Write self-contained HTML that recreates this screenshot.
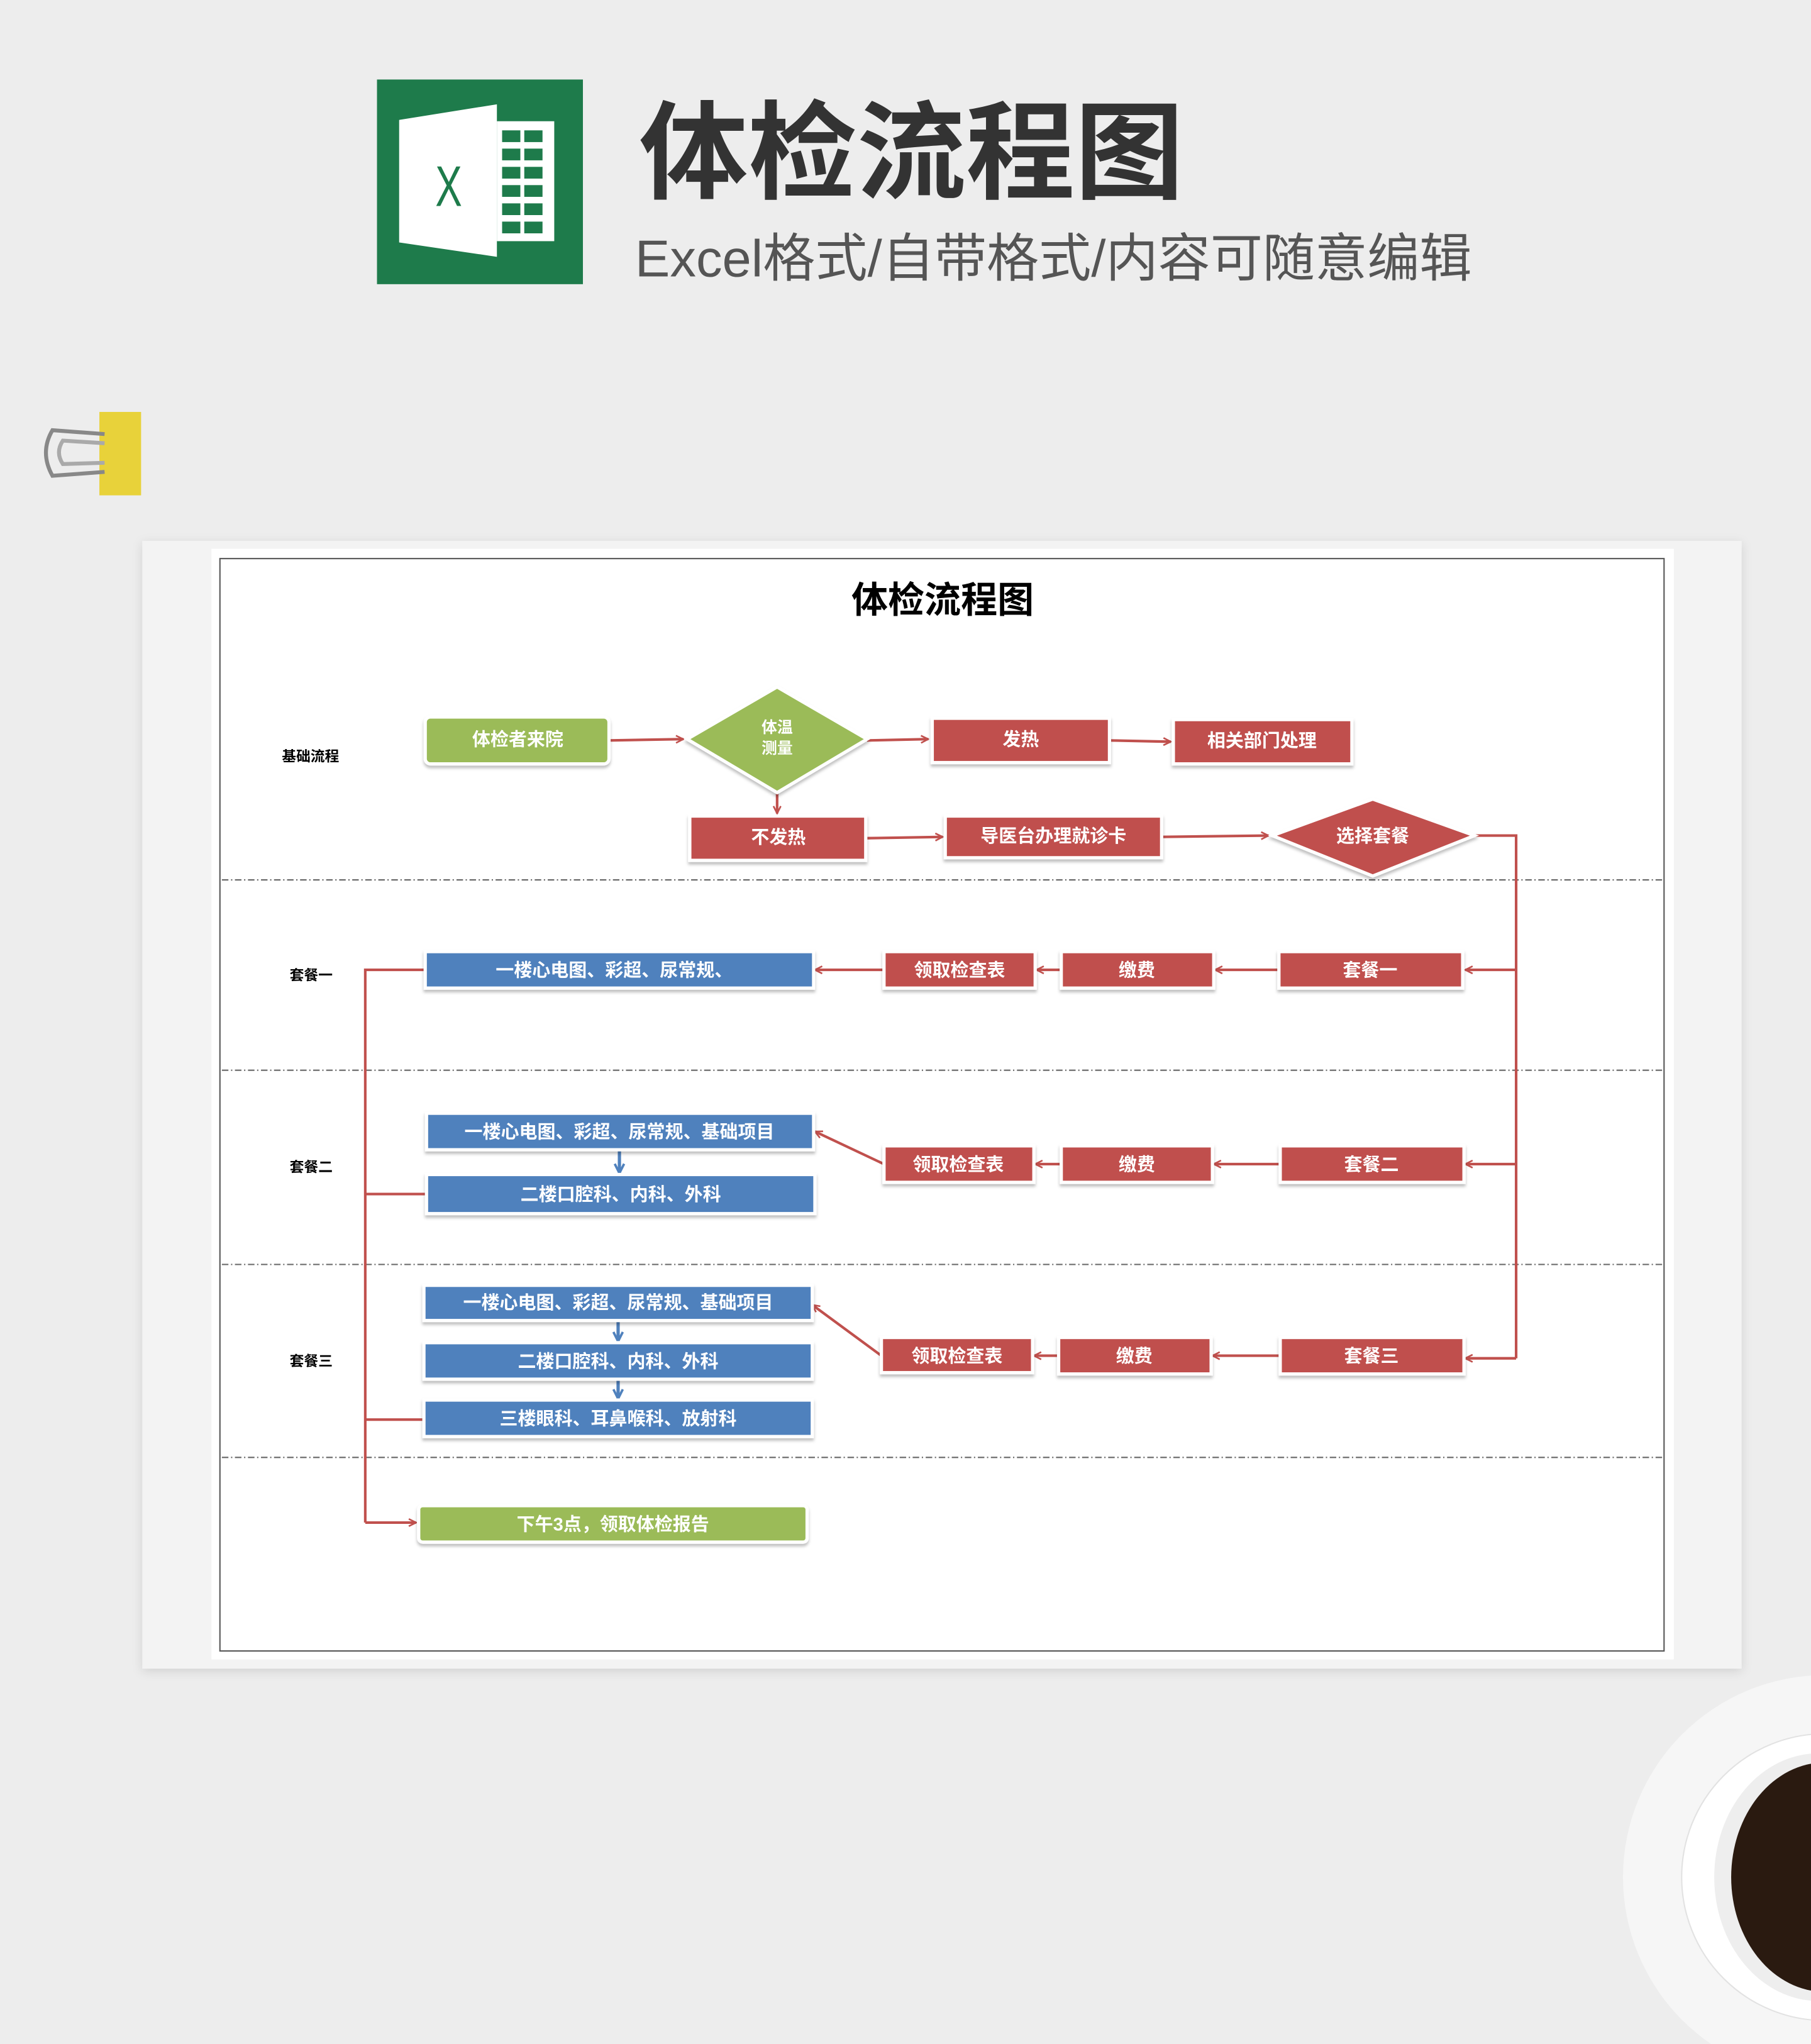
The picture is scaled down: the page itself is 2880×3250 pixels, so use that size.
<!DOCTYPE html>
<html><head><meta charset="utf-8">
<style>
html,body{margin:0;padding:0;background:#ededed;}
svg{display:block;}
text{font-family:"Liberation Sans","Noto Sans CJK SC",sans-serif;}
</style></head>
<body>
<svg width="2880" height="3250" viewBox="0 0 1389 1568" xmlns="http://www.w3.org/2000/svg">
<defs>
<marker id="ar" viewBox="0 0 10 10" refX="9" refY="5" markerWidth="7" markerHeight="7" orient="auto-start-reverse" markerUnits="userSpaceOnUse">
<path d="M1,1 L9,5 L1,9" fill="none" stroke="#c0504d" stroke-width="1.8"/></marker>
<marker id="ab" viewBox="0 0 10 10" refX="9" refY="5" markerWidth="9" markerHeight="9" orient="auto" markerUnits="userSpaceOnUse">
<path d="M1,1 L9,5 L1,9" fill="none" stroke="#4f81bd" stroke-width="2"/></marker>
<filter id="sh" x="-10%" y="-10%" width="120%" height="130%"><feDropShadow dx="0" dy="2" stdDeviation="1.2" flood-color="#000" flood-opacity="0.25"/></filter>
<filter id="cs" x="-5%" y="-5%" width="110%" height="110%"><feDropShadow dx="0" dy="2" stdDeviation="4" flood-color="#000" flood-opacity="0.12"/></filter>
</defs>
<rect width="1389" height="1568" fill="#ededed"/>

<!-- excel logo -->
<rect x="289" y="61" width="158" height="157" fill="#1e7b4b"/>
<rect x="381" y="93" width="44" height="92" fill="#fff"/>
<g fill="#1e7b4b">
<rect x="385" y="100" width="14" height="9"/><rect x="402" y="100" width="14" height="9"/>
<rect x="385" y="114" width="14" height="9"/><rect x="402" y="114" width="14" height="9"/>
<rect x="385" y="128" width="14" height="9"/><rect x="402" y="128" width="14" height="9"/>
<rect x="385" y="142" width="14" height="9"/><rect x="402" y="142" width="14" height="9"/>
<rect x="385" y="156" width="14" height="9"/><rect x="402" y="156" width="14" height="9"/>
<rect x="385" y="170" width="14" height="9"/><rect x="402" y="170" width="14" height="9"/>
</g>
<polygon points="306,92 381,80 381,197 306,186" fill="#fff"/>
<text x="344" y="158" font-size="44" fill="#1e7b4b" text-anchor="middle" transform="translate(344 0) scale(0.7 1) translate(-344 0)">X</text>

<text x="490" y="146" font-size="82" font-weight="bold" fill="#333" textLength="418" lengthAdjust="spacingAndGlyphs">体检流程图</text>
<text x="487" y="212" font-size="40" fill="#555" textLength="642" lengthAdjust="spacingAndGlyphs">Excel格式/自带格式/内容可随意编辑</text>

<!-- binder clip -->
<rect x="76" y="316" width="32" height="64" fill="#e8d23a"/>
<path d="M80,333 L40,330 Q30,347 40,365 L80,362" fill="none" stroke="#888" stroke-width="3"/>
<path d="M80,340 L48,338 Q42,347 48,356 L80,355" fill="none" stroke="#aaa" stroke-width="3"/>

<!-- card -->
<rect x="109" y="415" width="1227" height="865" fill="#f3f3f3" filter="url(#cs)"/>
<rect x="162" y="421" width="1122" height="852" fill="#fff"/>
<rect x="168.5" y="428.5" width="1108" height="838" fill="none" stroke="#555" stroke-width="1"/>

<text x="723" y="470" font-size="28" font-weight="bold" fill="#000" text-anchor="middle">体检流程图</text>

<g stroke="#666" stroke-width="1" stroke-dasharray="5,2,1,2">
<line x1="170" y1="675" x2="1276" y2="675"/>
<line x1="170" y1="821" x2="1276" y2="821"/>
<line x1="170" y1="970" x2="1276" y2="970"/>
<line x1="170" y1="1118" x2="1276" y2="1118"/>
</g>

<g font-size="11" font-weight="bold" fill="#000">
<text x="216" y="584">基础流程</text>
<text x="222" y="752">套餐一</text>
<text x="222" y="899">套餐二</text>
<text x="222" y="1048">套餐三</text>
</g>

<!-- connectors -->
<g stroke="#c0504d" stroke-width="2" fill="none">
<line x1="467" y1="568" x2="524" y2="567" marker-end="url(#ar)"/>
<line x1="665" y1="568" x2="712" y2="567" marker-end="url(#ar)"/>
<line x1="851" y1="568" x2="898" y2="569" marker-end="url(#ar)"/>
<line x1="596" y1="607" x2="596" y2="624" marker-end="url(#ar)"/>
<line x1="664" y1="643" x2="723" y2="642" marker-end="url(#ar)"/>
<line x1="891" y1="642" x2="973" y2="641" marker-end="url(#ar)"/>
<polyline points="1131,641 1163,641 1163,1042"/>
<line x1="1163" y1="744" x2="1124" y2="744" marker-end="url(#ar)"/>
<line x1="1163" y1="893" x2="1124" y2="893" marker-end="url(#ar)"/>
<line x1="1163" y1="1042" x2="1124" y2="1042" marker-end="url(#ar)"/>
<line x1="981" y1="744" x2="932" y2="744" marker-end="url(#ar)"/>
<line x1="814" y1="744" x2="795" y2="744" marker-end="url(#ar)"/>
<line x1="678" y1="744" x2="625" y2="744" marker-end="url(#ar)"/>
<line x1="982" y1="893" x2="931" y2="893" marker-end="url(#ar)"/>
<line x1="814" y1="893" x2="794" y2="893" marker-end="url(#ar)"/>
<line x1="678" y1="893" x2="625" y2="868" marker-end="url(#ar)"/>
<line x1="982" y1="1040" x2="930" y2="1040" marker-end="url(#ar)"/>
<line x1="812" y1="1040" x2="793" y2="1040" marker-end="url(#ar)"/>
<line x1="676" y1="1040" x2="623" y2="1001" marker-end="url(#ar)"/>
<polyline points="327,744 280,744 280,1168"/>
<line x1="280" y1="916" x2="327" y2="916"/>
<line x1="280" y1="1089" x2="326" y2="1089"/>
<line x1="280" y1="1168" x2="319" y2="1168" marker-end="url(#ar)"/>
</g>
<g stroke="#4f81bd" stroke-width="2.5">
<line x1="475" y1="882" x2="475" y2="900" marker-end="url(#ab)"/>
<line x1="474" y1="1013" x2="474" y2="1029" marker-end="url(#ab)"/>
<line x1="474" y1="1058" x2="474" y2="1073" marker-end="url(#ab)"/>
</g>

<!-- shapes -->
<g stroke="#fff" stroke-width="2.5" filter="url(#sh)">
<rect x="326" y="550" width="141" height="36" rx="4" fill="#9bbb59"/>
<polygon points="596,527 665,567 596,608 527,567" fill="#9bbb59"/>
<rect x="715" y="551" width="136" height="34" fill="#c0504d"/>
<rect x="900" y="552" width="137" height="34" fill="#c0504d"/>
<rect x="529" y="626" width="135" height="34" fill="#c0504d"/>
<rect x="725" y="626" width="166" height="32" fill="#c0504d"/>
<polygon points="1053,613 1131,641 1053,672 976,641" fill="#c0504d"/>

<rect x="981" y="730" width="141" height="28" fill="#c0504d"/>
<rect x="814" y="730" width="117" height="28" fill="#c0504d"/>
<rect x="678" y="730" width="116" height="28" fill="#c0504d"/>
<rect x="326" y="730" width="298" height="28" fill="#4f81bd"/>

<rect x="982" y="879" width="141" height="28" fill="#c0504d"/>
<rect x="814" y="879" width="116" height="28" fill="#c0504d"/>
<rect x="678" y="879" width="115" height="28" fill="#c0504d"/>
<rect x="327" y="854" width="297" height="28" fill="#4f81bd"/>
<rect x="327" y="901" width="298" height="30" fill="#4f81bd"/>

<rect x="982" y="1026" width="141" height="28" fill="#c0504d"/>
<rect x="812" y="1026" width="117" height="28" fill="#c0504d"/>
<rect x="676" y="1026" width="116" height="27" fill="#c0504d"/>
<rect x="325" y="986" width="298" height="27" fill="#4f81bd"/>
<rect x="325" y="1030" width="298" height="28" fill="#4f81bd"/>
<rect x="325" y="1074" width="298" height="28" fill="#4f81bd"/>

<rect x="321" y="1155" width="298" height="28" rx="3" fill="#9bbb59"/>
</g>

<!-- labels -->
<g font-size="14" font-weight="bold" fill="#fff" text-anchor="middle">
<text x="397" y="572">体检者来院</text>
<text x="596" y="562" font-size="12">体温</text>
<text x="596" y="578" font-size="12">测量</text>
<text x="783" y="572">发热</text>
<text x="968" y="573">相关部门处理</text>
<text x="597" y="647">不发热</text>
<text x="808" y="646">导医台办理就诊卡</text>
<text x="1053" y="646">选择套餐</text>

<text x="1051" y="749">套餐一</text>
<text x="872" y="749">缴费</text>
<text x="736" y="749">领取检查表</text>
<text x="471" y="749">一楼心电图、彩超、尿常规、</text>

<text x="1052" y="898">套餐二</text>
<text x="872" y="898">缴费</text>
<text x="735" y="898">领取检查表</text>
<text x="475" y="873">一楼心电图、彩超、尿常规、基础项目</text>
<text x="476" y="921">二楼口腔科、内科、外科</text>

<text x="1052" y="1045">套餐三</text>
<text x="870" y="1045">缴费</text>
<text x="734" y="1045">领取检查表</text>
<text x="474" y="1004">一楼心电图、彩超、尿常规、基础项目</text>
<text x="474" y="1049">二楼口腔科、内科、外科</text>
<text x="474" y="1093">三楼眼科、耳鼻喉科、放射科</text>

<text x="470" y="1174">下午3点，领取体检报告</text>
</g>

<!-- coffee cup hint -->
<circle cx="1400" cy="1440" r="155" fill="#f6f6f6"/>
<circle cx="1400" cy="1440" r="110" fill="#fff" stroke="#e2e2e2"/>
<ellipse cx="1395" cy="1440" rx="80" ry="95" fill="#eee"/>
<ellipse cx="1400" cy="1440" rx="72" ry="88" fill="#2a1a10"/>
</svg>
</body></html>
